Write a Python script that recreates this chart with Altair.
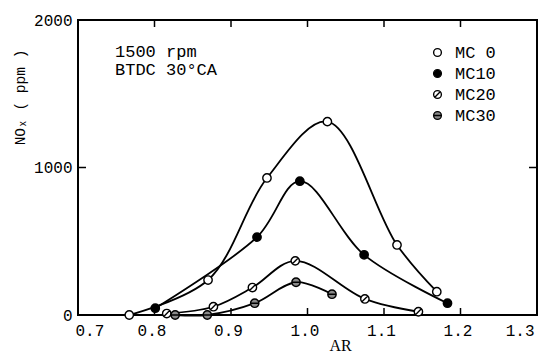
import altair as alt
import pandas as pd

series_names = ["MC 0", "MC10", "MC20", "MC30"]
mc0_x = [0.767, 0.870, 0.947, 1.026, 1.117, 1.169]
mc0_y = [0, 237, 929, 1311, 475, 158]
mc10_x = [0.801, 0.934, 0.990, 1.074, 1.183]
mc10_y = [46, 528, 907, 408, 80]
mc20_x = [0.816, 0.877, 0.928, 0.984, 1.075, 1.145]
mc20_y = [10, 56, 186, 367, 109, 22]
mc30_x = [0.827, 0.869, 0.931, 0.985, 1.032]
mc30_y = [0, 0, 80, 222, 141]

x_ticks = [0.7, 0.8, 0.9, 1.0, 1.1, 1.2, 1.3]
y_ticks = [0, 1000, 2000]
inner_x_ticks = [0.8, 0.9, 1.0, 1.1, 1.2]
inner_y_ticks = [1000]
annotation = ["1500 rpm", "BTDC 30°CA"]

rows = []
for name, xs, ys in zip(series_names, [mc0_x, mc10_x, mc20_x, mc30_x], [mc0_y, mc10_y, mc20_y, mc30_y]):
    for a, b in zip(xs, ys):
        rows.append({"series": name, "AR": a, "NOx": b})
df = pd.DataFrame(rows)

W, H = 459, 295
xscale = alt.Scale(domain=[0.7, 1.3], nice=False, zero=False)
yscale = alt.Scale(domain=[0, 2000], nice=False)

circle = "M -1 0 A 1 1 0 1 1 1 0 A 1 1 0 1 1 -1 0 Z"
shape_range = [circle, circle, circle + " M -0.7 0.7 L 0.7 -0.7", circle + " M -1 0 L 1 0"]
fill_range = ["white", "black", "white", "#8a8a8a"]
stroke_range = ["black", "black", "black", "black"]

xaxis = alt.Axis(values=x_ticks, format=".1f", title="AR", titleX=262, titleY=30,
                 titleFont="Liberation Serif", titleFontSize=16, titleFontWeight="normal",
                 titleBaseline="middle", labelPadding=7, labelOffset=-3, labelFontSize=16)
yaxis = alt.Axis(values=y_ticks, format="d", title="NOₓ ( ppm )", titleX=-58, titleY=77,
                 titleAngle=270, titleAlign="center", titleBaseline="middle",
                 titleFont="Liberation Mono", titleFontSize=14.5, titleFontWeight="normal",
                 labelPadding=6, labelFontSize=16)

lines = alt.Chart(df).mark_line(interpolate="catmull-rom", color="black", strokeWidth=1.8).encode(
    x=alt.X("AR:Q", scale=xscale, axis=xaxis),
    y=alt.Y("NOx:Q", scale=yscale, axis=yaxis),
    detail="series:N",
)

leg = alt.Legend(title=None, orient="none", legendX=351, legendY=24,
                 labelFont="Liberation Mono", labelFontSize=17, symbolSize=60,
                 symbolStrokeWidth=1.4, symbolOpacity=1,
                 rowPadding=3, labelOffset=9, padding=0, labelColor="black")

points = alt.Chart(df).mark_point(filled=True, opacity=1, size=70, strokeWidth=1.4).encode(
    x=alt.X("AR:Q", scale=xscale, axis=xaxis),
    y=alt.Y("NOx:Q", scale=yscale, axis=yaxis),
    shape=alt.Shape("series:N", scale=alt.Scale(domain=series_names, range=shape_range), legend=leg),
    fill=alt.Fill("series:N", scale=alt.Scale(domain=series_names, range=fill_range), legend=leg),
    stroke=alt.Stroke("series:N", scale=alt.Scale(domain=series_names, range=stroke_range), legend=leg),
)

xt = pd.DataFrame({"AR": inner_x_ticks})
yt = pd.DataFrame({"NOx": inner_y_ticks})
tick_bottom = alt.Chart(xt).mark_rule(color="black", strokeWidth=1.5).encode(
    x=alt.X("AR:Q", scale=xscale, axis=xaxis), y=alt.value(H), y2=alt.value(H - 7))
tick_top = alt.Chart(xt).mark_rule(color="black", strokeWidth=1.5).encode(
    x=alt.X("AR:Q", scale=xscale, axis=xaxis), y=alt.value(0), y2=alt.value(7))
tick_left = alt.Chart(yt).mark_rule(color="black", strokeWidth=1.5).encode(
    y=alt.Y("NOx:Q", scale=yscale, axis=yaxis), x=alt.value(0), x2=alt.value(8))
tick_right = alt.Chart(yt).mark_rule(color="black", strokeWidth=1.5).encode(
    y=alt.Y("NOx:Q", scale=yscale, axis=yaxis), x=alt.value(W), x2=alt.value(W - 8))

note = alt.Chart(pd.DataFrame({"t": ["\n".join(annotation)]})).mark_text(
    align="left", baseline="alphabetic", font="Liberation Mono", fontSize=17,
    lineBreak="\n", lineHeight=18, color="black").encode(
    text="t:N", x=alt.value(37), y=alt.value(37))

chart = alt.layer(lines, points, tick_bottom, tick_top, tick_left, tick_right, note).properties(
    width=W, height=H,
    background="white",
    autosize=alt.AutoSizeParams(type="none"),
    padding={"left": 70, "top": 12, "right": 4, "bottom": 38},
).configure_view(stroke="black", strokeWidth=2).configure_axis(
    domain=False, ticks=False, grid=False, labelFont="Liberation Mono",
    labelColor="black", titleColor="black"
)

chart.save("out.html", embed_options={"renderer": "svg", "actions": False})
